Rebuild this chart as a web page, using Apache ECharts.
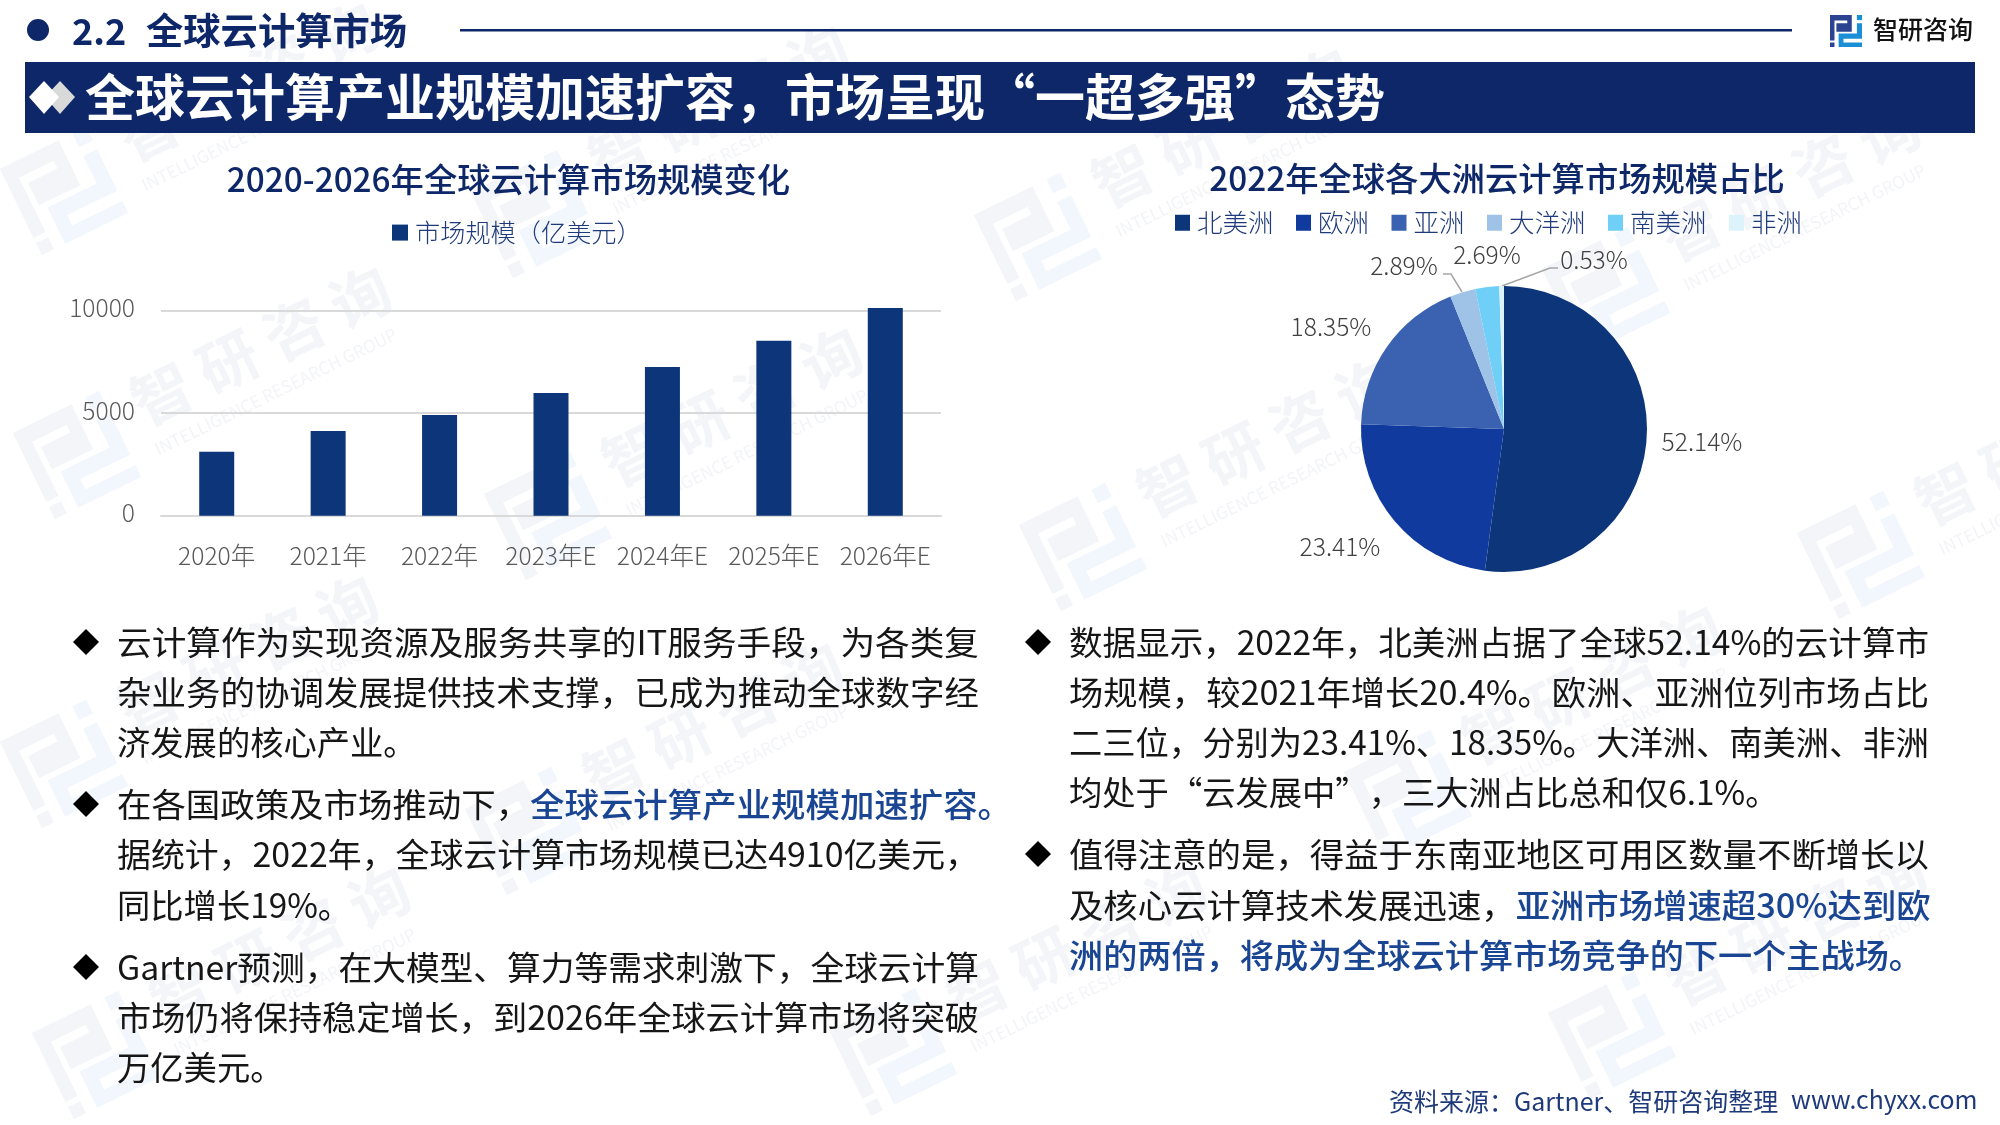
<!DOCTYPE html>
<html>
<head>
<meta charset="utf-8">
<script src="https://cdn.jsdelivr.net/npm/echarts@6/dist/echarts.min.js"></script>
<style>
html, body { margin: 0; padding: 0; background: #fff; }
#main { width: 2000px; height: 1125px; }
</style>
</head>
<body>
<div id="main"></div>
<script>
var years = ['2020年', '2021年', '2022年', '2023年E', '2024年E', '2025年E', '2026年E'];
var marketSize = [3120, 4130, 4910, 5980, 7250, 8540, 10130];
var yTicks = [0, 5000, 10000];
var barName = '市场规模（亿美元）';

var continents = ['北美洲', '欧洲', '亚洲', '大洋洲', '南美洲', '非洲'];
var shares = [52.14, 23.41, 18.35, 2.89, 2.69, 0.53];
var pieColors = ['#0d3579', '#113a9f', '#3a62b1', '#9fc3e7', '#6fcff6', '#dcf3fc'];

var sectionNo = '2.2';
var sectionName = '全球云计算市场';
var bannerTitle = '全球云计算产业规模加速扩容，市场呈现“一超多强”态势';
var leftTitle = '2020-2026年全球云计算市场规模变化';
var rightTitle = '2022年全球各大洲云计算市场规模占比';
var logoName = '智研咨询';
var sourceText = '资料来源：Gartner、智研咨询整理';
var siteText = 'www.chyxx.com';

// {b|...} marks the blue highlighted runs
var leftLines = [
    '云计算作为实现资源及服务共享的IT服务手段，为各类复',
    '杂业务的协调发展提供技术支撑，已成为推动全球数字经',
    '济发展的核心产业。',
    '在各国政策及市场推动下，{b|全球云计算产业规模加速扩容。}',
    '据统计，2022年，全球云计算市场规模已达4910亿美元，',
    '同比增长19%。',
    'Gartner预测，在大模型、算力等需求刺激下，全球云计算',
    '市场仍将保持稳定增长，到2026年全球云计算市场将突破',
    '万亿美元。'
];
var rightLines = [
    '数据显示，2022年，北美洲占据了全球52.14%的云计算市',
    '场规模，较2021年增长20.4%。欧洲、亚洲位列市场占比',
    '二三位，分别为23.41%、18.35%。大洋洲、南美洲、非洲',
    '均处于“云发展中”，三大洲占比总和仅6.1%。',
    '值得注意的是，得益于东南亚地区可用区数量不断增长以',
    '及核心云计算技术发展迅速，{b|亚洲市场增速超30%达到欧}',
    '{b|洲的两倍，将成为全球云计算市场竞争的下一个主战场。}'
];

var FONT = '"Noto Sans CJK SC", "Noto Sans", sans-serif';
var NAVY = '#0d2769';
var BLUE = '#1a4592';
var BODY_FONT = '33.3px ' + FONT;

var leftLineY = [642, 692, 742, 804, 854, 905, 967, 1017, 1067];
var rightLineY = [642, 692, 742, 792, 854, 905, 955];
// the original paragraphs are justified: right end of each line, 0 = left as is
var leftLineEnd = [979, 979, 0, 1012, 979, 0, 979, 979, 0];
var rightLineEnd = [1929, 1929, 1929, 0, 1929, 1929, 1923];
var leftBullets = [642, 804, 967];
var rightBullets = [642, 854];

// logo pieces in a 0..1 box
var logoDark = [
    [[0, 0], [0.68, 0], [0.68, 0.52], [0.2, 0.52], [0.2, 0.26], [0.54, 0.26], [0.54, 0.17], [0.14, 0.17], [0.14, 0.8], [0, 0.8]],
    [[0, 0.86], [0.14, 0.86], [0.14, 1], [0, 1]]
];
var logoLight = [
    [[0.84, 0], [1, 0], [1, 0.16], [0.84, 0.16]],
    [[0.84, 0.26], [1, 0.26], [1, 0.74], [0.42, 0.74], [0.42, 0.86], [1, 0.86], [1, 1], [0.27, 1], [0.27, 0.58], [0.84, 0.58]]
];

function logoShapes(x, y, size, dark, light) {
    var out = [];
    function add(list, color) {
        list.forEach(function (pts) {
            out.push({
                type: 'polygon',
                shape: { points: pts.map(function (p) { return [x + p[0] * size, y + p[1] * size]; }) },
                style: { fill: color }
            });
        });
    }
    add(logoDark, dark);
    add(logoLight, light);
    return out;
}

var marks = [[64, 191], [77, 455], [64, 764], [96, 1055], [535, 214], [548, 516], [529, 831], [893, 1052],
    [1038, 237], [1083, 547], [1408, 794], [1606, 291], [1861, 555], [1612, 1035]];

function watermark(pos) {
    return {
        type: 'group',
        x: pos[0],
        y: pos[1],
        rotation: 26 * Math.PI / 180,
        children: logoShapes(-48, -48, 96, '#f4f5f8', '#f2f6fd').concat([
            { type: 'text', x: 73, y: -18, style: { text: '智 研 咨 询', font: 'bold 60px ' + FONT, fill: '#f4f5f8', verticalAlign: 'middle' } },
            { type: 'text', x: 73, y: 30, style: { text: 'INTELLIGENCE RESEARCH GROUP', font: '17px ' + FONT, fill: '#f3f4f7', verticalAlign: 'middle' } }
        ])
    };
}

var measure = document.createElement('canvas').getContext('2d');
measure.font = BODY_FONT;

function bodyLines(lines, ys, ends, x) {
    return lines.map(function (line, i) {
        var plain = line.replace('{b|', '').replace('}', '');
        var scale = ends[i] ? (ends[i] - x) / measure.measureText(plain).width : 1;
        return {
            type: 'text',
            x: x,
            y: ys[i],
            scaleX: scale,
            style: {
                text: line,
                font: BODY_FONT,
                fill: '#161616',
                verticalAlign: 'middle',
                rich: { b: { fill: BLUE, font: '500 ' + BODY_FONT } }
            }
        };
    });
}

function bullets(ys, x) {
    return ys.map(function (y) {
        return {
            type: 'polygon',
            shape: { points: [[x, y - 13], [x + 13, y], [x, y + 13], [x - 13, y]] },
            style: { fill: '#000' }
        };
    });
}

var graphics = marks.map(watermark).concat([
    { type: 'circle', shape: { cx: 38, cy: 30, r: 11 }, style: { fill: NAVY } },
    { type: 'text', x: 72, y: 31, style: { text: sectionNo, font: 'bold 36px ' + FONT, fill: NAVY, verticalAlign: 'middle' } },
    { type: 'text', x: 146, y: 31, style: { text: sectionName, font: 'bold 37.3px ' + FONT, fill: NAVY, verticalAlign: 'middle' } },
    { type: 'rect', shape: { x: 460, y: 29, width: 1332, height: 2.5 }, style: { fill: NAVY } },
    { type: 'text', x: 1873, y: 29, style: { text: logoName, font: '500 25px ' + FONT, fill: '#111', verticalAlign: 'middle' } },
    { type: 'rect', shape: { x: 25, y: 62, width: 1950, height: 71 }, style: { fill: NAVY } },
    { type: 'polygon', shape: { points: [[60, 81], [75, 97], [60, 114], [45, 97]] }, style: { fill: '#d9d9d9' } },
    { type: 'polygon', shape: { points: [[44, 81], [59, 97], [44, 114], [29, 97]] }, style: { fill: '#fff' } },
    { type: 'text', x: 85, y: 97, style: { text: bannerTitle, font: 'bold 50px ' + FONT, fill: '#fff', verticalAlign: 'middle' } },
    { type: 'text', x: 1389, y: 1101, style: { text: sourceText, font: '25px ' + FONT, fill: '#1f3a7a', verticalAlign: 'middle' } },
    { type: 'text', x: 1791, y: 1100, style: { text: siteText, font: '24.8px ' + FONT, fill: '#1f3a7a', verticalAlign: 'middle' } }
]).concat(logoShapes(1830, 15, 32, '#2b4390', '#1b8fd6'))
    .concat(bullets(leftBullets, 86), bullets(rightBullets, 1038))
    .concat(bodyLines(leftLines, leftLineY, leftLineEnd, 117), bodyLines(rightLines, rightLineY, rightLineEnd, 1069));

// where each pie label sits, and the two leader lines
var labelSpots = [[1702, 442], [1340, 547], [1331, 327], [1404, 266], [1487, 255], [1594, 260]];
var labelLines = {
    3: [[1443, 274], [1451, 274], [1462, 292]],
    5: [[1558, 268], [1550, 268], [1502, 286]]
};

var chart = echarts.init(document.getElementById('main'));
chart.setOption({
    animation: false,
    backgroundColor: '#fff',
    textStyle: { fontFamily: FONT },
    title: [
        { text: leftTitle, left: 503.5, top: 158, textAlign: 'center', textStyle: { fontFamily: FONT, fontSize: 33.3, fontWeight: 500, color: NAVY } },
        { text: rightTitle, left: 1492, top: 157, textAlign: 'center', textStyle: { fontFamily: FONT, fontSize: 33.3, fontWeight: 500, color: NAVY } }
    ],
    legend: [
        {
            data: [barName], left: 387, top: 215, icon: 'rect', itemWidth: 16, itemHeight: 16,
            textStyle: { fontFamily: FONT, fontSize: 25.2, fontWeight: 300, color: '#1f3a7a', padding: [0, 0, 0, 2] }
        },
        {
            data: continents, left: 1170, top: 205, icon: 'rect', itemWidth: 15, itemHeight: 16, itemGap: 22.5,
            textStyle: { fontFamily: FONT, fontSize: 25.5, fontWeight: 300, color: '#1f3a7a', padding: [0, 0, 0, 2] }
        }
    ],
    grid: { left: 161, top: 310.7, width: 780, height: 205 },
    xAxis: {
        type: 'category',
        data: years,
        axisTick: { show: false },
        axisLine: { lineStyle: { color: '#d9d9d9', width: 2 } },
        axisLabel: { interval: 0, fontSize: 24.6, fontWeight: 300, color: '#595959', margin: 28, fontFamily: FONT }
    },
    yAxis: {
        type: 'value',
        min: yTicks[0],
        max: yTicks[2],
        interval: yTicks[1],
        axisLine: { show: false },
        axisTick: { show: false },
        splitLine: { lineStyle: { color: '#d9d9d9', width: 2 } },
        axisLabel: {
            margin: 26,
            formatter: function (v) { return '{t|' + v + '}'; },
            rich: {
                t: { fontSize: 24.6, fontWeight: 300, color: '#595959', fontFamily: FONT, padding: [0, 0, 6, 0] }
            }
        }
    },
    series: [
        {
            name: barName,
            type: 'bar',
            data: marketSize,
            barWidth: 35,
            clip: false,
            itemStyle: { color: '#0d3579' }
        },
        {
            type: 'pie',
            center: [1504, 429],
            radius: 143,
            startAngle: 90,
            avoidLabelOverlap: false,
            color: pieColors,
            data: continents.map(function (name, i) {
                return { name: name, value: shares[i], labelLine: { show: !!labelLines[i] } };
            }),
            label: { formatter: '{c}%', fontSize: 24.6, fontWeight: 300, color: '#404040', fontFamily: FONT },
            labelLine: { lineStyle: { color: '#a6a6a6', width: 1.5 } },
            labelLayout: function (params) {
                var spot = labelSpots[params.dataIndex];
                return {
                    x: spot[0],
                    y: spot[1],
                    align: 'center',
                    verticalAlign: 'middle',
                    labelLinePoints: labelLines[params.dataIndex]
                };
            }
        }
    ],
    graphic: { elements: graphics }
});
window.onresize = function () {
    chart.resize();
};
</script>
</body>
</html>
